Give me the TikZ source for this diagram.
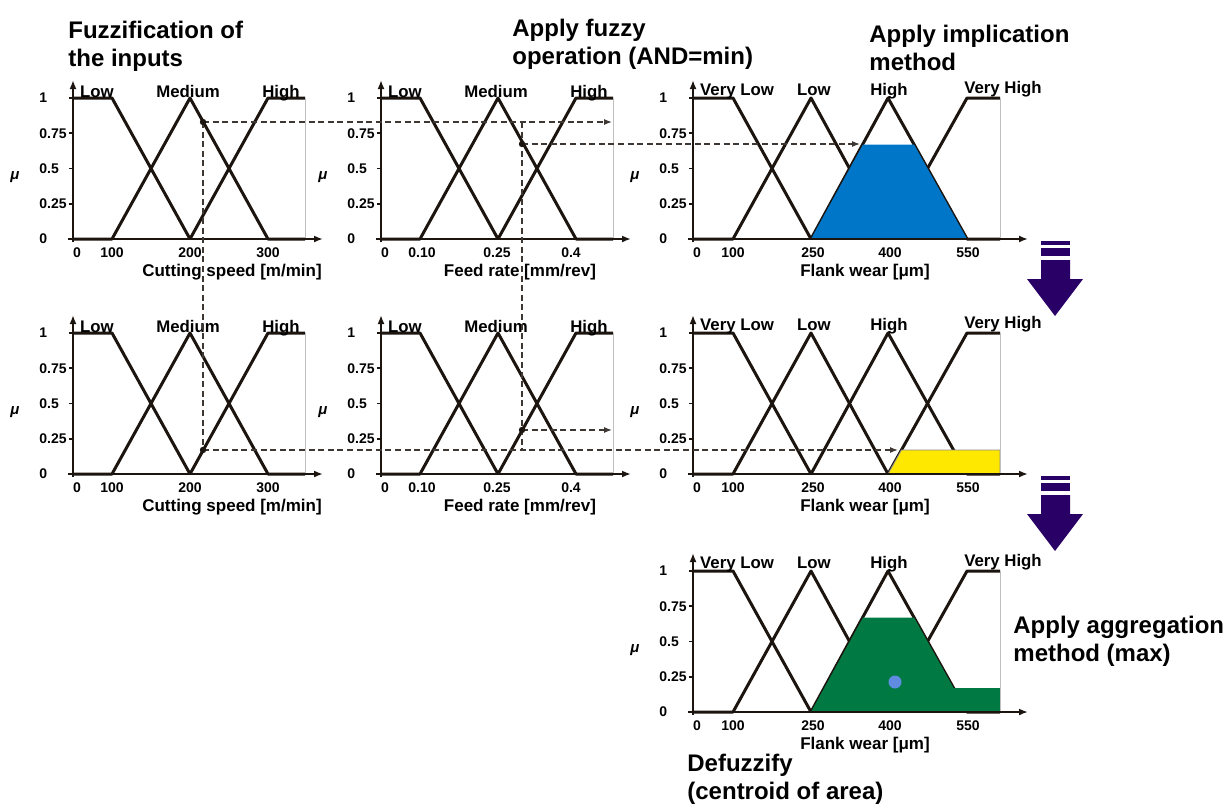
\documentclass[tikz,border=0pt]{standalone}
\usepackage{fontspec}
\setmainfont{Liberation Sans}
\usetikzlibrary{arrows.meta, positioning, calc}

\definecolor{ink}{RGB}{28,20,14}
\definecolor{implblue}{RGB}{0,118,200}
\definecolor{aggyellow}{RGB}{255,232,0}
\definecolor{agggreen}{RGB}{0,122,66}
\definecolor{centroidblue}{RGB}{95,140,225}
\definecolor{stepviolet}{RGB}{40,0,102}

\begin{document}
\begin{tikzpicture}[
    x=0.5pt, y=-0.5pt,
    font=\bfseries,
    mf/.style={draw=ink, line width=1.5pt, line join=round},
    axis/.style={draw=ink, line width=1pt, -{Latex[length=4.5pt,width=3.5pt]}},
    frame/.style={draw=black!25, line width=0.4pt},
    guide/.style={draw=ink!85, line width=0.6pt, dash pattern=on 3pt off 1.8pt,
                  -{Latex[length=4pt,width=3pt]}},
    dot/.style={circle, fill=ink, inner sep=0pt, minimum size=3.2pt},
    setname/.style={font=\fontsize{8.4}{10}\selectfont\bfseries, anchor=base,
                    inner sep=0pt},
    tick/.style={font=\fontsize{7}{8}\selectfont\bfseries, inner sep=0pt},
    axtitle/.style={font=\fontsize{8.5}{10}\selectfont\bfseries, inner sep=0pt},
    mu/.style={font=\fontsize{7.5}{9}\selectfont\bfseries\itshape, inner sep=0pt},
    stage/.style={font=\fontsize{12}{14}\selectfont\bfseries, align=left,
                  anchor=north west, inner sep=0pt},
]
\useasboundingbox (0,0) rectangle (1225,803);

% --- membership functions: inputs (cutting speed, feed rate) ---
\foreach \ox/\oy in {73/239, 381/239, 73/474, 381/474}{
  \begin{scope}[shift={(\ox,\oy)}]
    \draw[mf] (0,-141) -- (39,-141) -- (117,0);
    \draw[mf] (0,0) -- (39,0) -- (117,-141) -- (195,0) -- (232,0);
    \draw[mf] (117,0) -- (195,-141) -- (232,-141);
    \node[setname] (low-\ox-\oy) at (24,-142) {Low};
    \node[setname] (med-\ox-\oy) at (115,-142) {Medium};
    \node[setname] (high-\ox-\oy) at (208,-142) {High};
  \end{scope}
}

% --- membership functions: output (flank wear) ---
\foreach \ox/\oy in {693/239, 693/474, 693/712}{
  \begin{scope}[shift={(\ox,\oy)}]
    \draw[mf] (0,-141) -- (40,-141) -- (118,0);
    \draw[mf] (0,0) -- (40,0) -- (118,-141) -- (195,0);
    \draw[mf] (118,0) -- (195,-141) -- (274,0) -- (307,0);
    \draw[mf] (195,0) -- (274,-141) -- (307,-141);
    \node[setname] (vlow-\oy) at (44,-144) {Very Low};
    \node[setname] (olow-\oy) at (121,-144) {Low};
    \node[setname] (ohigh-\oy) at (196,-144) {High};
    \node[setname] (vhigh-\oy) at (310,-146) {Very High};
  \end{scope}
}

% --- implied and aggregated sets ---
\begin{scope}[shift={(693,239)}]
  \fill[implblue] (118,0) -- (170,-94.5) -- (221,-94.5) -- (274,0) -- cycle;
\end{scope}
\begin{scope}[shift={(693,474)}]
  \filldraw[fill=aggyellow, draw=black!45, line width=0.4pt]
    (195,0) -- (208.4,-24) -- (307,-24) -- (307,0) -- cycle;
\end{scope}
\begin{scope}[shift={(693,712)}]
  \fill[agggreen] (118,0) -- (170,-94.5) -- (221,-94.5) -- (260.6,-24)
                  -- (307,-24) -- (307,0) -- cycle;
  \node[circle, fill=centroidblue, inner sep=0pt, minimum size=6.5pt]
    (cog) at (202,-30) {};
\end{scope}

% --- axes and y ticks of every panel ---
\foreach \ox/\oy/\w/\e in {73/239/232/250, 381/239/232/250, 693/239/307/335,
                           73/474/232/250, 381/474/232/250, 693/474/307/335,
                           693/712/307/335}{
  \begin{scope}[shift={(\ox,\oy)}]
    \draw[frame] (\w,-141) -- (\w,0);
    \draw[axis] (-5,0) -- (\e,0);
    \draw[axis] (0,3) -- (0,-159);
    \foreach \v/\t [count=\i] in {0/0, 0.25/0.25, 0.5/0.5, 0.75/0.75, 1/1}{
      \draw[ink, line width=0.8pt] (-4,-141*\v) -- (0,-141*\v);
      \node[tick, anchor=west] (yt\i-\ox-\oy) at (-34,-141*\v) {\t};
    }
    \node[mu] (mu-\ox-\oy) at (-58,-62) {μ};
  \end{scope}
}

% --- x tick labels and axis titles ---
\foreach \oy in {239, 474}{
  \foreach \xv/\t [count=\i] in {4/0, 39/100, 117/200, 195/300}
    \node[tick] (cs\i-\oy) at (73+\xv,\oy+14) {\t};
  \node[axtitle] (cs-\oy) at (73+159,\oy+33) {Cutting speed [m/min]};
  \foreach \xv/\t [count=\i] in {4/0, 41/0.10, 116/0.25, 190/0.4}
    \node[tick] (fr\i-\oy) at (381+\xv,\oy+14) {\t};
  \node[axtitle] (fr-\oy) at (381+139,\oy+33) {Feed rate [mm/rev]};
}
\foreach \oy in {239, 474, 712}{
  \foreach \xv/\t [count=\i] in {4/0, 40/100, 120/250, 197/400, 275/550}
    \node[tick] (fw\i-\oy) at (693+\xv,\oy+14) {\t};
  \node[axtitle] (fw-\oy) at (693+172,\oy+33) {Flank wear [μm]};
}

% --- inputs read off and carried across ---
\coordinate (csTop) at (203,122);
\coordinate (csBot) at (203,450);
\coordinate (frTop) at (522,144);
\coordinate (frBot) at (522,430);
\coordinate (minTop) at (612,122);
\coordinate (minBot) at (612,430);
\coordinate (implTop) at (860,144);
\coordinate (implBot) at (898,450);

\draw[guide, -] (csTop) -- (csBot);
\draw[guide, -] (frTop |- csTop) -- (frTop |- csBot);
\draw[guide] (csTop) -- (minTop);
\draw[guide] (frTop) -- (implTop);
\draw[guide] (csBot) -- (implBot);
\draw[guide] (frBot) -- (minBot);
\node[dot] (csTopDot) at (csTop) {};
\node[dot] (csBotDot) at (csBot) {};
\node[dot] (frTopDot) at (frTop) {};
\node[dot] (frBotDot) at (frBot) {};

% --- step arrows ---
\foreach \by in {0, 235}{
  \fill[stepviolet] (1041,241+\by) rectangle (1070,245+\by);
  \fill[stepviolet] (1041,248+\by) rectangle (1070,256+\by);
  \fill[stepviolet] (1041,260+\by) -- (1070,260+\by) -- (1070,279+\by)
    -- (1083,279+\by) -- (1055,316+\by) -- (1027,279+\by) -- (1041,279+\by) -- cycle;
}

% --- stage captions ---
\node[stage] (fuzz) at (68,21) {Fuzzification of\\the inputs};
\node[stage] (andop) at (512,19) {Apply fuzzy\\operation (AND=min)};
\node[stage] (impl) at (869,25) {Apply implication\\method};
\node[stage] (aggr) at (1013,616) {Apply aggregation\\method (max)};
\node[stage] (defuzz) at (687,754) {Defuzzify\\(centroid of area)};

\end{tikzpicture}
\end{document}
